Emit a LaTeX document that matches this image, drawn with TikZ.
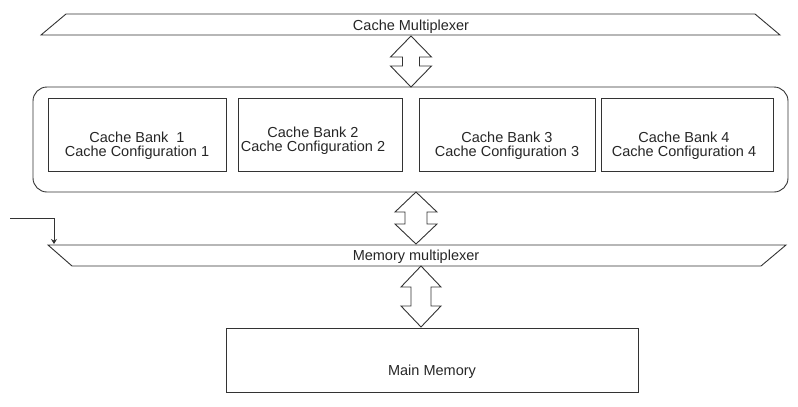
\documentclass[tikz,border=0pt]{standalone}
\usepackage{fontspec}
\setmainfont{Liberation Sans}
\usetikzlibrary{arrows.meta}
\tikzset{
  ln/.style={draw=black!80, line width=0.9pt},
  lbl/.style={inner sep=0pt, text=black!85, font=\fontsize{14.5}{14.5}\selectfont},
  banktxt/.style={lbl, align=center, anchor=north},
  bankbox/.style={ln, rectangle}
}
\newcommand{\DArrow}[6]{%
  \draw[ln, line join=miter] (#1,#2) -- ({#1+#4},{#2+#6}) -- ({#1+#5},{#2+#6}) -- ({#1+#5},{#3-#6})
    -- ({#1+#4},{#3-#6}) -- (#1,#3) -- ({#1-#4},{#3-#6}) -- ({#1-#5},{#3-#6})
    -- ({#1-#5},{#2+#6}) -- ({#1-#4},{#2+#6}) -- cycle;}
\begin{document}
\begin{tikzpicture}[x=1pt, y=-1pt]
\useasboundingbox (0,0) rectangle (798,407);
% Cache multiplexer
\coordinate (cmTL) at (66,14);
\coordinate (cmTR) at (755,14);
\coordinate (cmBR) at (780,35);
\coordinate (cmBL) at (41,35);
\draw[ln, line join=miter] (cmTL) -- (cmTR) -- (cmBR) -- (cmBL) -- cycle;
\node[lbl, anchor=base] (cmtext) at (411,30) {Cache Multiplexer};
% arrow 1
\DArrow{411}{36}{87}{20.5}{8.5}{21}
% cache container
\draw[ln, rounded corners=14pt] (33,87) rectangle (788,192);
\coordinate (c1a) at (48,98); \coordinate (c1b) at (226,171);
\draw[ln] (48,98) rectangle (226,171);
\draw[ln] (238,98) rectangle (402,171);
\draw[ln] (419,98) rectangle (595,171);
\draw[ln] (601,98) rectangle (773,171);
\node[banktxt] (b1) at (137,131.5) {Cache Bank\ \ 1\\Cache Configuration 1};
\node[banktxt] (b2) at (313,126.5) {Cache Bank 2\\Cache Configuration 2};
\node[banktxt] (b3) at (507,131.5) {Cache Bank 3\\Cache Configuration 3};
\node[banktxt] (b4) at (684,131.5) {Cache Bank 4\\Cache Configuration 4};
% arrow 2
\DArrow{416}{192}{244}{21}{11}{20}
% memory multiplexer
\coordinate (mmTL) at (48,245);
\coordinate (mmTR) at (786,245);
\coordinate (mmBR) at (761,266);
\coordinate (mmBL) at (72,266);
\draw[ln, line join=miter] (mmTL) -- (mmTR) -- (mmBR) -- (mmBL) -- cycle;
\node[lbl, anchor=base] (mmtext) at (416,260) {Memory multiplexer};
% side input
\coordinate (inS) at (10,218);
\coordinate (inE) at (54,244);
\draw[ln, -{Stealth[length=5pt, width=6pt]}] (inS) -| (inE);
% arrow 3
\DArrow{421}{266}{327}{20}{10}{21}
% main memory
\draw[ln] (226,328) rectangle (638,392);
\node[lbl, anchor=base] (mmem) at (432,375) {Main Memory};
\end{tikzpicture}
\end{document}
